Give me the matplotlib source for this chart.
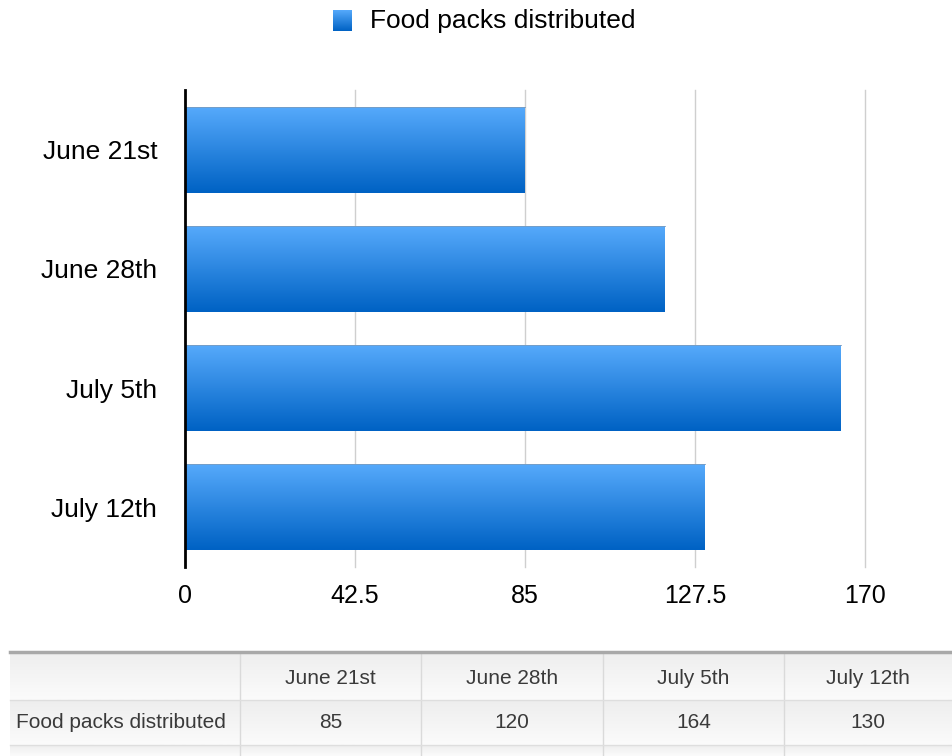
import numpy as np
import matplotlib
matplotlib.use("Agg")
import matplotlib.pyplot as plt
from matplotlib.colors import LinearSegmentedColormap

plt.rcParams["font.family"] = ["Liberation Sans", "DejaVu Sans"]

categories = ["June 21st", "June 28th", "July 5th", "July 12th"]
values = [85, 120, 164, 130]
series_name = "Food packs distributed"
xticks = [0, 42.5, 85, 127.5, 170]
xticklabels = ["0", "42.5", "85", "127.5", "170"]

grad = LinearSegmentedColormap.from_list("blu", ["#0062C4", "#55A9FB"])
gimg = np.linspace(0, 1, 64).reshape(-1, 1)

fig = plt.figure(figsize=(9.52, 7.56), dpi=100)
ax = fig.add_axes([185/952, 1 - 567/756, 680/952, 477/756])

ypos = np.arange(len(categories))
h = 0.72
for y, v in zip(ypos, values):
    ax.imshow(gimg, cmap=grad, origin="lower", aspect="auto",
              extent=(0, v, y + h/2, y - h/2), zorder=2, interpolation="bilinear")
    ax.plot([0, v], [y - h/2, y - h/2], color="#7a9cc0", lw=0.6, zorder=3)

ax.set_xlim(0, 170)
ax.set_ylim(len(categories) - 0.5, -0.5)
ax.set_yticks(ypos)
ax.set_yticklabels(categories, fontsize=19)
ax.set_xticks(xticks)
ax.set_xticklabels(xticklabels, fontsize=18)
ax.tick_params(length=0)
ax.tick_params(axis="y", pad=20)
ax.tick_params(axis="x", pad=12)
for x in xticks[1:]:
    ax.axvline(x, color="#cfcfcf", lw=1, zorder=1, clip_on=False)
for s in ["top", "right", "bottom"]:
    ax.spines[s].set_visible(False)
ax.spines["left"].set_linewidth(2)
ax.spines["left"].set_zorder(5)

# legend
lax = fig.add_axes([333/952, 1 - 31/756, 19/952, 21/756])
lax.imshow(gimg, cmap=grad, origin="lower", aspect="auto", extent=(0, 1, 0, 1))
lax.axis("off")
fig.text(370/952, 1 - 21/756, series_name, fontsize=19, va="center", ha="left")

# data table
tax = fig.add_axes([0, 0, 1, 1], zorder=-1)
tax.axis("off")
cols = [10, 240, 421, 603, 784, 952]
rows = [652, 700, 745, 756]
for r0, r1 in zip(rows[:-1], rows[1:]):
    tax.imshow(np.linspace(0, 1, 32).reshape(-1, 1),
               cmap=LinearSegmentedColormap.from_list("g", ["#fbfbfb", "#eeeeee"]),
               aspect="auto", extent=(10, 952, r1, r0), origin="lower", zorder=0)
for c in cols[1:-1]:
    tax.plot([c, c], [rows[0], rows[-1]], color="#dadada", lw=1, zorder=1)
for r in rows[1:-1]:
    tax.plot([10, 952], [r, r], color="#dedede", lw=1, zorder=1)
tax.plot([10, 952], [rows[0], rows[0]], color="#a8a8a8", lw=2.5, zorder=2)
tax.set_xlim(0, 952)
tax.set_ylim(756, 0)

for i, cat in enumerate(categories):
    cx = (cols[i + 1] + cols[i + 2]) / 2
    tax.text(cx, 678, cat, ha="center", va="center", fontsize=15, color="#3a3a3a")
    tax.text(cx, 722, str(values[i]), ha="center", va="center", fontsize=15, color="#3a3a3a")
tax.text(16, 722, series_name, ha="left", va="center", fontsize=15, color="#3a3a3a")

fig.savefig("out.png", dpi=100)
